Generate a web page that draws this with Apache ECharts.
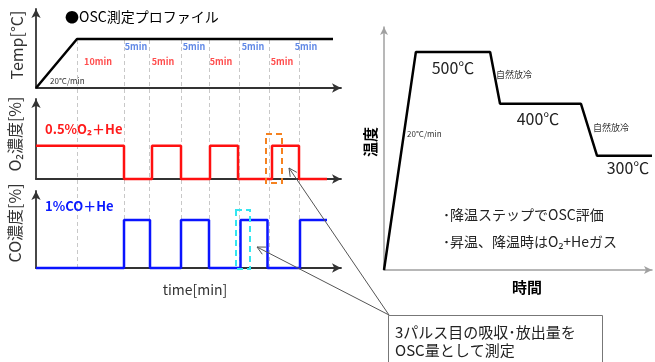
<!DOCTYPE html>
<html>
<head>
<meta charset="utf-8">
<script src="https://cdn.jsdelivr.net/npm/echarts@6/dist/echarts.min.js"></script>
<style>
html,body{margin:0;padding:0;background:#fff;}
#chart{width:655px;height:362px;}
</style>
</head>
<body>
<div id="chart"></div>
<script>
// time axis of the left panels, minutes (schematic)
var timeMax = 61;
// temperature profile of the left panel
var tempT = [0, 8.2, 59.4];
var tempV = [0, 62, 62];
// O2 pulses
var o2T = [0, 17.6, 17.6, 23.2, 23.2, 29, 29, 34.8, 34.8, 40.4, 40.4, 47.2, 47.2, 52.6, 52.6, 58.2];
var o2V = [0.5, 0.5, 0, 0, 0.5, 0.5, 0, 0, 0.5, 0.5, 0, 0, 0.5, 0.5, 0, 0];
// CO pulses
var coT = [0, 17.6, 17.6, 22.8, 22.8, 29, 29, 34.6, 34.6, 40.9, 40.9, 46.3, 46.3, 52.8, 52.8, 58.2];
var coV = [0, 0, 1, 1, 0, 0, 1, 1, 0, 0, 1, 1, 0, 0, 1, 1];
// dashed step boundaries
var stepT = [8.2, 17.6, 22.6, 29, 34.6, 40.6, 46.6, 52.6];
// step duration labels
var blueLabelT = [20, 31.6, 43.4, 54];
var blueLabels = ['5min', '5min', '5min', '5min'];
var redLabelT = [12.4, 25.4, 37, 49.2];
var redLabels = ['10min', '5min', '5min', '5min'];
// right panel: temperature program
var profT = [0, 11.9, 39.6, 43.3, 73.5, 79.5, 100];
var profV = [80, 500, 500, 400, 400, 300, 300];

var FONT = '"Noto Sans CJK JP", "Noto Sans", "DejaVu Sans", sans-serif';

function zip(a, b) {
    return a.map(function (v, i) { return [v, b[i]]; });
}

function txt(x, y, text, o) {
    o = o || {};
    return {
        type: 'text', x: x, y: y, rotation: o.rot || 0, z: o.z || 20,
        style: {
            text: text, fill: o.color || '#000', fontSize: o.size || 14,
            fontWeight: o.bold ? 'bold' : 'normal', fontFamily: FONT,
            align: o.align || 'left', verticalAlign: 'middle'
        }
    };
}

function arrow(x0, y0, x1, y1) {
    var dx = x1 - x0, dy = y1 - y0, l = Math.sqrt(dx * dx + dy * dy);
    var ux = dx / l, uy = dy / l, px = -uy, py = ux;
    return [
        { type: 'line', z: 30, shape: { x1: x0, y1: y0, x2: x1, y2: y1 }, style: { stroke: '#555', lineWidth: 1 } },
        { type: 'polyline', z: 30, shape: { points: [
            [x1 - 8 * ux + 4 * px, y1 - 8 * uy + 4 * py], [x1, y1], [x1 - 8 * ux - 4 * px, y1 - 8 * uy - 4 * py]] },
          style: { stroke: '#555', lineWidth: 1, fill: null } }
    ];
}

var leftAxis = {
    show: true, symbol: ['none', 'arrow'], symbolSize: [7, 9],
    lineStyle: { color: '#333', width: 1.8 }
};
function xAx(g, max, line) {
    return { type: 'value', gridIndex: g, min: 0, max: max, axisLine: line,
        axisTick: { show: false }, axisLabel: { show: false }, splitLine: { show: false } };
}
function yAx(g, min, max, line) {
    return { type: 'value', gridIndex: g, min: min, max: max, axisLine: line,
        axisTick: { show: false }, axisLabel: { show: false }, splitLine: { show: false } };
}
var rightAxis = {
    show: true, symbol: ['none', 'arrow'], symbolSize: [6, 8],
    lineStyle: { color: '#a0a0a0', width: 1.5 }
};

var chart = echarts.init(document.getElementById('chart'));

var graphic = [
    txt(65, 17, '●OSC測定プロファイル', { size: 14 }),
    txt(17, 45, 'Temp[°C]', { size: 16, color: '#333', rot: Math.PI / 2, align: 'center' }),
    txt(15, 134, 'O₂濃度[%]', { size: 16, color: '#333', rot: Math.PI / 2, align: 'center' }),
    txt(15, 223, 'CO濃度[%]', { size: 16, color: '#333', rot: Math.PI / 2, align: 'center' }),
    txt(50, 81, '20°C/min', { size: 8, color: '#333' }),
    txt(45, 129, '0.5%O₂＋He', { size: 13, color: '#ff1a1a', bold: true }),
    txt(45, 206, '1%CO＋He', { size: 13, color: '#0a1aff', bold: true }),
    txt(195, 290, 'time[min]', { size: 14, color: '#333', align: 'center' }),
    { type: 'rect', z: 25, shape: { x: 266, y: 134, width: 16, height: 49 },
      style: { fill: null, stroke: '#f58220', lineWidth: 2, lineDash: [6, 4] } },
    { type: 'rect', z: 25, shape: { x: 236, y: 210, width: 14, height: 59 },
      style: { fill: null, stroke: '#33e6f0', lineWidth: 2, lineDash: [6, 4] } },
    txt(453, 68, '500℃', { size: 16, color: '#222', align: 'center' }),
    txt(538, 119, '400℃', { size: 16, color: '#222', align: 'center' }),
    txt(628, 168, '300℃', { size: 16, color: '#222', align: 'center' }),
    txt(496, 75, '自然放冷', { size: 9, color: '#333' }),
    txt(593, 128, '自然放冷', { size: 9, color: '#333' }),
    txt(407, 134, '20°C/min', { size: 8, color: '#333' }),
    txt(370, 142, '温度', { size: 15, bold: true, rot: Math.PI / 2, align: 'center' }),
    txt(527, 287, '時間', { size: 15, bold: true, align: 'center' }),
    txt(443, 215, '･降温ステップでOSC評価', { size: 14, color: '#222' }),
    txt(443, 242, '･昇温、降温時はO₂+Heガス', { size: 14, color: '#222' }),
    { type: 'rect', z: 28, shape: { x: 388.5, y: 315.5, width: 214, height: 60 },
      style: { fill: '#fff', stroke: '#777', lineWidth: 1 } },
    txt(395, 332, '3パルス目の吸収･放出量を', { size: 15, color: '#222', z: 31 }),
    txt(395, 350, 'OSC量として測定', { size: 15, color: '#222', z: 31 })
];
graphic = graphic.concat(arrow(389, 315, 289, 168), arrow(389, 315, 257, 247));

function labelSeries(ts, y, names, color) {
    return {
        type: 'scatter', xAxisIndex: 0, yAxisIndex: 0, symbolSize: 0, silent: true,
        data: ts.map(function (t, i) { return { value: [t, y], name: names[i] }; }),
        label: { show: true, position: [0, 0], align: 'center', verticalAlign: 'middle',
            formatter: '{b}', color: color, fontSize: 9, fontWeight: 'bold', fontFamily: FONT }
    };
}

chart.setOption({
    animation: false,
    backgroundColor: '#fff',
    grid: [
        { left: 36, top: 9, width: 305, height: 79, outerBoundsMode: 'none' },
        { left: 36, top: 99, width: 305, height: 80, outerBoundsMode: 'none' },
        { left: 36, top: 191, width: 305, height: 77, outerBoundsMode: 'none' },
        { left: 36, top: 39, width: 305, height: 229, outerBoundsMode: 'none' },
        { left: 384, top: 27, width: 268, height: 243, outerBoundsMode: 'none' }
    ],
    xAxis: [
        xAx(0, timeMax, leftAxis), xAx(1, timeMax, leftAxis), xAx(2, timeMax, leftAxis),
        xAx(3, timeMax, { show: false }), xAx(4, 100, rightAxis)
    ],
    yAxis: [
        yAx(0, 0, 100, leftAxis), yAx(1, 0, 1.2, leftAxis), yAx(2, 0, 1.6, leftAxis),
        yAx(3, 0, 1, { show: false }), yAx(4, 80, 548, rightAxis)
    ],
    graphic: graphic,
    series: [
        { type: 'line', xAxisIndex: 0, yAxisIndex: 0, data: zip(tempT, tempV), symbol: 'none', clip: false, z: 6,
          lineStyle: { color: '#000', width: 2.5 } },
        labelSeries(blueLabelT, 53, blueLabels, '#3a6be0'),
        labelSeries(redLabelT, 33, redLabels, '#ff2020'),
        { type: 'line', xAxisIndex: 1, yAxisIndex: 1, data: zip(o2T, o2V), symbol: 'none', clip: false, z: 6,
          lineStyle: { color: '#ff1010', width: 2.5 } },
        { type: 'line', xAxisIndex: 2, yAxisIndex: 2, data: zip(coT, coV), symbol: 'none', clip: false, z: 6,
          lineStyle: { color: '#0a14ff', width: 2.5 } },
        { type: 'line', xAxisIndex: 3, yAxisIndex: 3, data: [], z: 0,
          markLine: { silent: true, symbol: 'none', z: 0, label: { show: false },
            lineStyle: { color: '#c8c8c8', type: [4, 3], width: 1 },
            data: stepT.map(function (t) { return { xAxis: t }; }) } },
        { type: 'line', xAxisIndex: 4, yAxisIndex: 4, data: zip(profT, profV), symbol: 'none', clip: false, z: 6,
          lineStyle: { color: '#000', width: 2.5 } }
    ]
});
</script>
</body>
</html>
